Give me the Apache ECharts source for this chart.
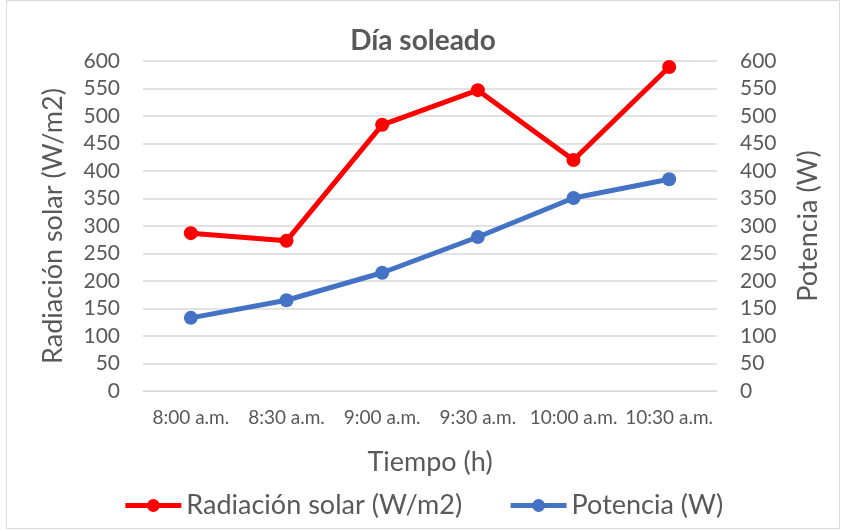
<!DOCTYPE html>
<html><head><meta charset="utf-8">
<script src="https://cdn.jsdelivr.net/npm/echarts@6/dist/echarts.min.js"></script>
<style>html,body{margin:0;padding:0;background:#fff}#c{width:846px;height:531px}</style>
</head><body><div id="c"></div>
<script>
const categories = ['8:00 a.m.', '8:30 a.m.', '9:00 a.m.', '9:30 a.m.', '10:00 a.m.', '10:30 a.m.'];
const radiacion = [287, 273, 484, 547, 420, 589];
const potencia = [133, 165, 215, 280, 351, 385];
const FONT = 'Lato, "Open Sans", sans-serif';
const GREY = '#595959';
const chart = echarts.init(document.getElementById('c'));
chart.setOption({
  animation: false,
  textStyle: { fontFamily: FONT },
  graphic: [{ type: 'rect', shape: { x: 6.5, y: 0.5, width: 833, height: 528 }, style: { fill: 'none', stroke: '#d9d9d9', lineWidth: 1 }, silent: true }],
  title: { text: 'Día soleado', left: 'center', top: 22, textStyle: { fontFamily: FONT, fontSize: 28, fontWeight: 'bold', color: GREY } },
  grid: { left: 143, right: 129, top: 61, bottom: 140 },
  legend: {
    bottom: 7, left: 'center', itemWidth: 56, itemHeight: 16, itemGap: 46,
    lineStyle: { width: 5 },
    textStyle: { fontFamily: FONT, fontSize: 27, color: GREY },
    data: ['Radiación solar (W/m2)', 'Potencia (W)']
  },
  xAxis: {
    type: 'category', data: categories, boundaryGap: true,
    name: 'Tiempo (h)', nameLocation: 'middle', nameGap: 58,
    nameTextStyle: { fontFamily: FONT, fontSize: 27, color: GREY },
    axisLine: { show: true, lineStyle: { color: '#d9d9d9' } }, axisTick: { show: false },
    axisLabel: { fontFamily: FONT, fontSize: 19, color: GREY, margin: 17, interval: 0 }
  },
  yAxis: [{
    type: 'value', min: 0, max: 600, interval: 50,
    name: 'Radiación solar (W/m2)', nameLocation: 'middle', nameGap: 76,
    nameTextStyle: { fontFamily: FONT, fontSize: 27, color: GREY },
    axisLine: { show: false }, axisTick: { show: false },
    axisLabel: { fontFamily: FONT, fontSize: 21, color: GREY, margin: 23 },
    splitLine: { lineStyle: { color: '#d9d9d9', width: 1.5 } }
  }, {
    type: 'value', min: 0, max: 600, interval: 50, position: 'right',
    name: 'Potencia (W)', nameLocation: 'middle', nameGap: 78,
    nameTextStyle: { fontFamily: FONT, fontSize: 27, color: GREY },
    axisLine: { show: false }, axisTick: { show: false },
    axisLabel: { fontFamily: FONT, fontSize: 21, color: GREY, margin: 23 },
    splitLine: { show: false }
  }],
  series: [{
    name: 'Radiación solar (W/m2)', type: 'line', data: radiacion, yAxisIndex: 0,
    symbol: 'circle', symbolSize: 14, color: '#ff0000',
    lineStyle: { width: 5, color: '#ff0000' }, itemStyle: { color: '#ff0000' }
  }, {
    name: 'Potencia (W)', type: 'line', data: potencia, yAxisIndex: 1,
    symbol: 'circle', symbolSize: 14, color: '#4472c4',
    lineStyle: { width: 5, color: '#4472c4' }, itemStyle: { color: '#4472c4' }
  }]
});
</script></body></html>
